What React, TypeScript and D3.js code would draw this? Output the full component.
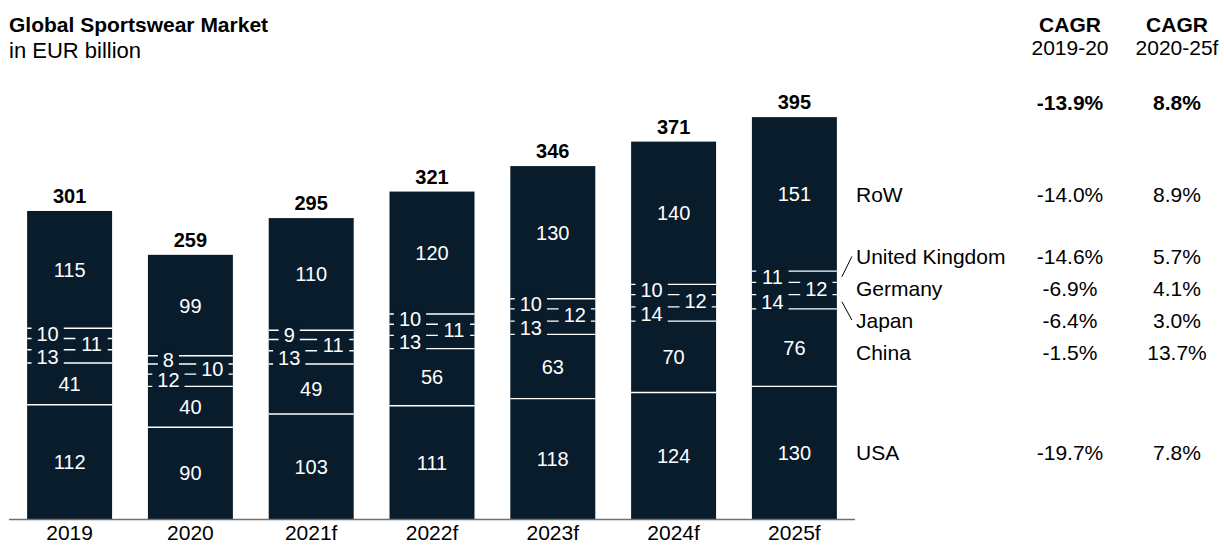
import React from "react";
import * as d3 from "d3";

const years = ["2019", "2020", "2021f", "2022f", "2023f", "2024f", "2025f"];
const totals = [301, 259, 295, 321, 346, 371, 395];
// stacked bottom -> top
const seriesNames = ["USA", "China", "Japan", "Germany", "United Kingdom", "RoW"];
const usa = [112, 90, 103, 111, 118, 124, 130];
const china = [41, 40, 49, 56, 63, 70, 76];
const japan = [13, 12, 13, 13, 13, 14, 14];
const germany = [11, 10, 11, 11, 12, 12, 12];
const uk = [10, 8, 9, 10, 10, 10, 11];
const row = [115, 99, 110, 120, 130, 140, 151];
const cagr1920 = ["-19.7%", "-1.5%", "-6.4%", "-6.9%", "-14.6%", "-14.0%"];
const cagr2025 = ["7.8%", "13.7%", "3.0%", "4.1%", "5.7%", "8.9%"];
const cagrTotal = ["-13.9%", "8.8%"];
const cagrHeads = [["CAGR", "2019-20"], ["CAGR", "2020-25f"]];

const seriesValues = [usa, china, japan, germany, uk, row];
const small = new Set(["Japan", "Germany", "United Kingdom"]);
const rightSide = new Set(["Germany"]);

const BAR = "#081c2c";
const FONT = "Liberation Sans, Arial, Helvetica, sans-serif";

export default function App() {
  const W = 1224, H = 550;
  const x = d3.scaleBand<string>().domain(years).range([9, 855]).paddingInner(0.2966).paddingOuter(0.15);
  const y = d3.scaleLinear().domain([0, 400]).range([519, 111]);
  const bw = x.bandwidth();

  const stacks = years.map((yr, i) => {
    let acc = 0;
    return seriesNames.map((name, s) => {
      const v = seriesValues[s][i];
      const seg = { name, v, y0: acc, y1: acc + v };
      acc += v;
      return seg;
    });
  });

  const lastIdx = years.length - 1;
  const lastStack = stacks[lastIdx];
  const center = (name: string) => {
    const seg = lastStack.find((d) => d.name === name)!;
    return (y(seg.y0) + y(seg.y1)) / 2;
  };
  const gerC = center("Germany");
  const legendY: Record<string, number> = {
    RoW: center("RoW"),
    "United Kingdom": gerC - 32,
    Germany: gerC,
    Japan: gerC + 31.5,
    China: gerC + 64,
    USA: center("USA"),
  };
  const lastRight = (x(years[lastIdx]) ?? 0) + bw;

  const segFont = 20;
  const dy = "0.36em";

  return (
    <svg width={W} height={H} style={{ position: "absolute", left: 0, top: 0 }} fontFamily={FONT}>
      <text x={9} y={32} fontSize={21} fontWeight="bold" fill="#000">Global Sportswear Market</text>
      <text x={9} y={58} fontSize={22} fill="#000">in EUR billion</text>

      {years.map((yr, i) => {
        const x0 = x(yr) ?? 0;
        const st = stacks[i];
        const top = st[st.length - 1].y1;
        return (
          <g key={yr}>
            <rect x={x0} y={y(top)} width={bw} height={y(0) - y(top)} fill={BAR} />
            {st.slice(0, -1).map((seg) => (
              <line key={seg.name} x1={x0} x2={x0 + bw} y1={y(seg.y1)} y2={y(seg.y1)} stroke="#fff" strokeWidth={1.4} />
            ))}
            {st.map((seg) => {
              const cy = (y(seg.y0) + y(seg.y1)) / 2;
              if (small.has(seg.name)) {
                const right = rightSide.has(seg.name);
                const cx = right ? x0 + bw - 20.5 : x0 + 20.5;
                const tw = String(seg.v).length * 0.556 * segFont;
                const boxW = tw + 10;
                return (
                  <g key={seg.name}>
                    <rect x={cx - boxW / 2} y={cy - 8.5} width={boxW} height={17} fill={BAR} />
                    <text x={cx} y={cy} dy={dy} textAnchor="middle" fontSize={segFont} fill="#fff">{seg.v}</text>
                  </g>
                );
              }
              return (
                <text key={seg.name} x={x0 + bw / 2} y={cy} dy={dy} textAnchor="middle" fontSize={segFont} fill="#fff">{seg.v}</text>
              );
            })}
            <text x={x0 + bw / 2} y={y(top) - 8} textAnchor="middle" fontSize={20} fontWeight="bold" fill="#000">{totals[i]}</text>
            <text x={x0 + bw / 2} y={540} textAnchor="middle" fontSize={21} fill="#000">{yr}</text>
          </g>
        );
      })}

      <line x1={9} x2={855} y1={519.5} y2={519.5} stroke="#707070" strokeWidth={1.4} />

      {/* legend */}
      {seriesNames.map((name) => (
        <text key={name} x={856} y={legendY[name]} dy={dy} fontSize={21} fill="#000">{name}</text>
      ))}
      <line x1={lastRight + 5} y1={center("United Kingdom")} x2={lastRight + 15} y2={legendY["United Kingdom"]} stroke="#000" strokeWidth={1} />
      <line x1={lastRight + 5} y1={center("Japan")} x2={lastRight + 15} y2={legendY["Japan"]} stroke="#000" strokeWidth={1} />

      {/* CAGR columns */}
      {[1070, 1177].map((cx, c) => (
        <g key={c}>
          <text x={cx} y={32} textAnchor="middle" fontSize={21} fontWeight="bold" fill="#000">{cagrHeads[c][0]}</text>
          <text x={cx} y={55} textAnchor="middle" fontSize={21} fill="#000">{cagrHeads[c][1]}</text>
          <text x={cx} y={110} textAnchor="middle" fontSize={21} fontWeight="bold" fill="#000">{cagrTotal[c]}</text>
          {seriesNames.map((name, s) => (
            <text key={name} x={cx} y={legendY[name]} dy={dy} textAnchor="middle" fontSize={21} fill="#000">
              {(c === 0 ? cagr1920 : cagr2025)[s]}
            </text>
          ))}
        </g>
      ))}
    </svg>
  );
}
